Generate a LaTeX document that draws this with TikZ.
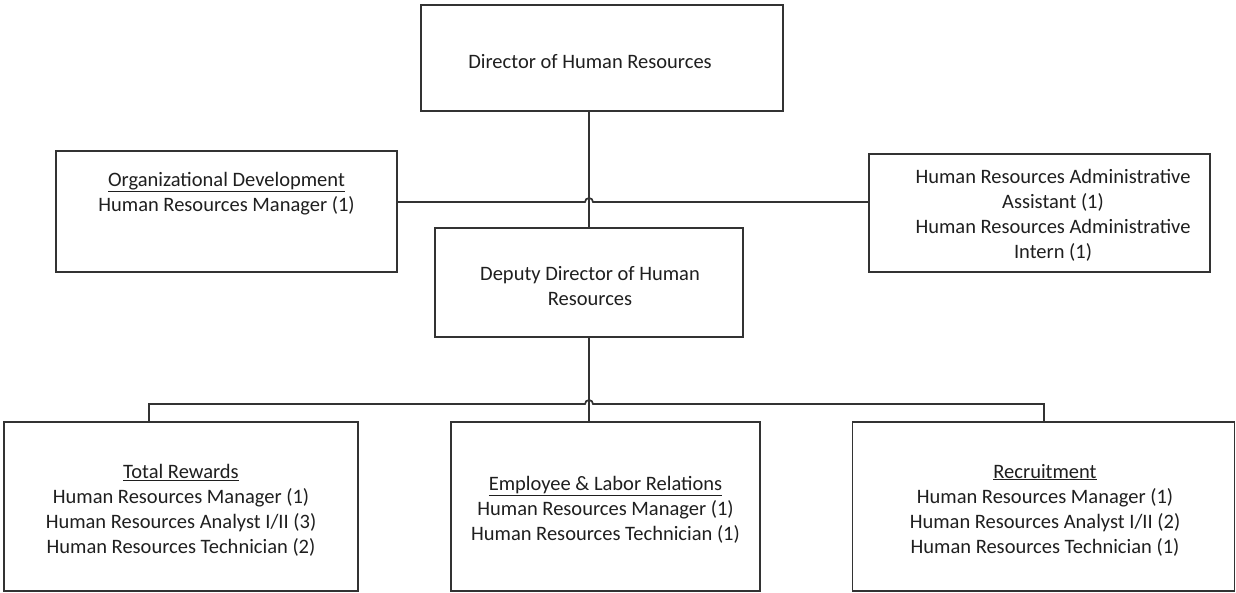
\documentclass[tikz,border=0pt]{standalone}
\usepackage{fontspec}
\setmainfont{Carlito}
\begin{document}
\begin{tikzpicture}[x=1pt,y=-1pt,
  every node/.style={text=black!88, font=\fontsize{20.5}{25}\selectfont},
  box/.style={draw=black!80, line width=1.7pt, inner sep=0pt, outer sep=0pt, fill=white},
  boxtext/.style={inner sep=0pt, align=center, yshift=-3.5pt},
  link/.style={draw=black!80, line width=1.7pt}]
\useasboundingbox (0,0) rectangle (1236,592);

% boxes
\node[box, minimum width=362pt, minimum height=106pt] (dir) at (602,58) {};
\node[box, minimum width=341pt, minimum height=121pt] (od) at (226.5,211.5) {};
\node[box, minimum width=341pt, minimum height=118pt] (adm) at (1039.5,213) {};
\node[box, minimum width=308pt, minimum height=109pt] (dep) at (589,282.5) {};
\node[box, minimum width=354pt, minimum height=169pt] (tr) at (181,506.5) {};
\node[box, minimum width=309pt, minimum height=169pt] (elr) at (605.5,506.5) {};
\node[box, minimum width=382pt, minimum height=169pt] (rec) at (1043.5,506.5) {};

% box texts
\node[boxtext] (dirt) at (590,58) {Director of Human Resources};
\node[boxtext] (odt) at (226.5,190) {\underline{Organizational Development}\\Human Resources Manager (1)};
\node[boxtext] (admt) at (1053,212) {Human Resources Administrative\\Assistant (1)\\Human Resources Administrative\\Intern (1)};
\node[boxtext] (dept) at (590,282.5) {Deputy Director of Human\\Resources};
\node[boxtext] (trt) at (181,506.5)
  {\underline{Total Rewards}\\Human Resources Manager (1)\\Human Resources Analyst I/II (3)\\Human Resources Technician (2)};
\node[boxtext] (elrt) at (605.5,506.5)
  {\underline{Employee \& Labor Relations}\\Human Resources Manager (1)\\Human Resources Technician (1)};
\node[boxtext] (rect) at (1045,506.5)
  {\underline{Recruitment}\\Human Resources Manager (1)\\Human Resources Analyst I/II (2)\\Human Resources Technician (1)};

% junction points
\coordinate (j1) at (589,202);
\coordinate (j2) at (589,404);
\coordinate (bl) at (149,404);
\coordinate (br) at (1044,404);

% reporting lines
\draw[link] (dir.south -| dep.north) -- (dep.north);
\draw[link] (od.east |- j1) -- ([xshift=-4pt]j1) arc[start angle=180, end angle=0, radius=4pt] -- (adm.west |- j1);
\draw[link] (dep.south) -- (dep.south |- elr.north);
\draw[link] (bl |- tr.north) -- (bl) -- ([xshift=-4pt]j2) arc[start angle=180, end angle=0, radius=4pt] -- (br) -- (br |- rec.north);
\end{tikzpicture}
\end{document}
